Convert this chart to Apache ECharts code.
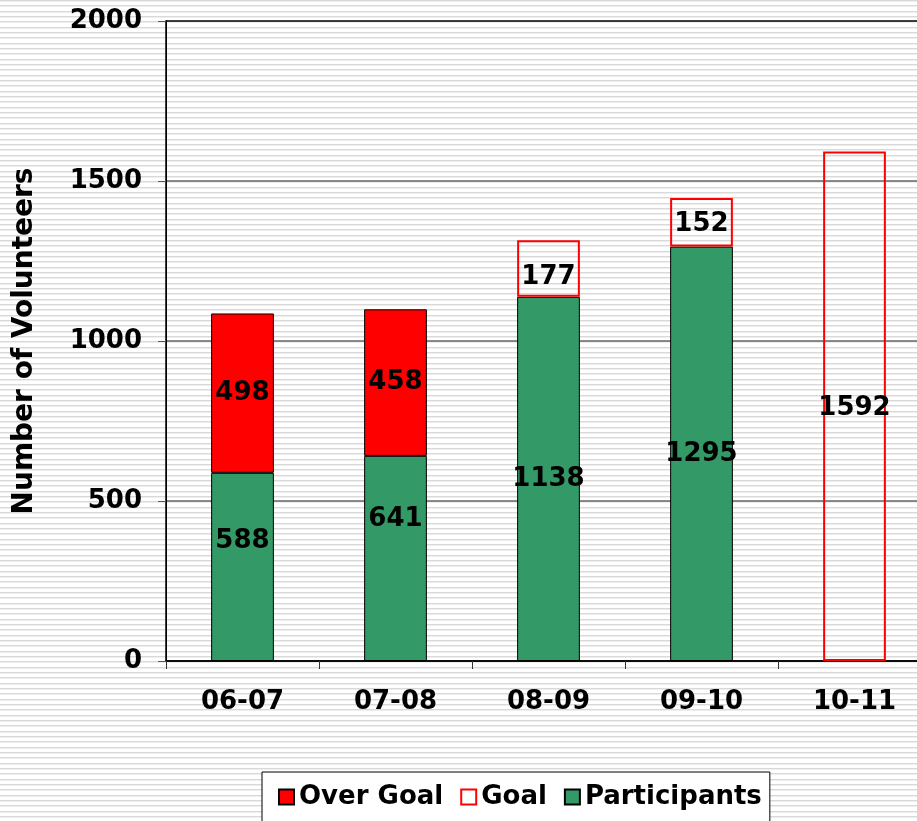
<!DOCTYPE html>
<html>
<head>
<meta charset="utf-8">
<script src="https://cdn.jsdelivr.net/npm/echarts@6/dist/echarts.min.js"></script>
<style>
  html, body { margin: 0; padding: 0; background: #fff; }
  #chart { width: 917px; height: 821px; }
</style>
</head>
<body>
<div id="chart"></div>
<script>
const seasons = ["06-07", "07-08", "08-09", "09-10", "10-11"];
const participants = [588, 641, 1138, 1295, null];
const overGoal = [498, 458, null, null, null];
const goalLeft = [null, null, 177, 152, 1592];
const yTicks = [0, 500, 1000, 1500, 2000];

// striped backdrop like the source slide
const stripe = document.createElement("canvas");
stripe.width = 8;
stripe.height = 16;
const sctx = stripe.getContext("2d");
sctx.fillStyle = "#ffffff";
sctx.fillRect(0, 0, 8, 16);
[0, 5, 11].forEach((y) => {
  sctx.fillStyle = "#d9d9d9";
  sctx.fillRect(0, y, 8, 1);
  sctx.fillStyle = "#eeeeee";
  sctx.fillRect(0, y + 1, 8, 1);
});

// the first two green labels sit a bit above centre in the source
const participantShift = [-26, -39, 0, 0, 0];

const labelFont = {
  fontFamily: "DejaVu Sans",
  fontWeight: "bold",
  fontSize: 26,
  color: "#000",
};

const chart = echarts.init(document.getElementById("chart"));
chart.setOption({
  animation: false,
  backgroundColor: { image: stripe, repeat: "repeat" },
  grid: {
    show: true,
    left: 166,
    top: 21,
    width: 765,
    height: 640,
    outerBoundsMode: "none",
    containLabel: false,
    borderColor: "#000",
    borderWidth: 1.5,
    backgroundColor: "transparent",
  },
  legend: {
    data: ["Over Goal", "Goal", "Participants"],
    left: 262,
    top: 772,
    padding: [12, 8, 20, 16],
    backgroundColor: "#fff",
    borderColor: "#000",
    borderWidth: 1,
    itemWidth: 15,
    itemHeight: 15,
    itemGap: 17,
    icon: "rect",
    textStyle: Object.assign({}, labelFont, { padding: [0, 0, 0, 0] }),
  },
  xAxis: {
    type: "category",
    data: seasons,
    axisLine: { lineStyle: { color: "#000", width: 1.5 } },
    axisTick: { show: true, length: 8, lineStyle: { color: "#333" } },
    axisLabel: Object.assign({ margin: 28 }, labelFont),
    splitLine: { show: false },
  },
  yAxis: {
    type: "value",
    min: yTicks[0],
    max: yTicks[yTicks.length - 1],
    interval: yTicks[1] - yTicks[0],
    name: "Number of Volunteers",
    nameLocation: "middle",
    nameGap: 127,
    nameTextStyle: {
      fontFamily: "DejaVu Sans",
      fontWeight: "bold",
      fontSize: 28,
      color: "#000",
    },
    axisLine: { show: true, lineStyle: { color: "#000" } },
    axisTick: { show: true, length: 8, lineStyle: { color: "#555" } },
    axisLabel: Object.assign({ margin: 24, formatter: (v) => String(v) }, labelFont),
    splitLine: {
      show: true,
      showMinLine: false,
      showMaxLine: false,
      lineStyle: { color: "#666", width: 1.5 },
    },
  },
  series: [
    {
      name: "Participants",
      type: "bar",
      stack: "v",
      barWidth: "41%",
      data: participants.map((v, i) => ({
        value: v,
        label: { offset: [0, participantShift[i]] },
      })),
      itemStyle: { color: "#339966", borderColor: "#000", borderWidth: 1 },
      label: Object.assign({ show: true, position: "inside" }, labelFont),
    },
    {
      name: "Over Goal",
      type: "bar",
      stack: "v",
      data: overGoal,
      itemStyle: { color: "#ff0000", borderColor: "#000", borderWidth: 1 },
      label: Object.assign({ show: true, position: "inside" }, labelFont),
    },
    {
      name: "Goal",
      type: "bar",
      stack: "v",
      data: goalLeft.map((v, i) => ({
        value: v,
        label: { offset: [0, i === 2 ? 9 : 2] },
      })),
      itemStyle: { color: "rgba(255,255,255,0)", borderColor: "#ff0000", borderWidth: 2 },
      label: Object.assign({ show: true, position: "inside" }, labelFont),
    },
  ],
});
</script>
</body>
</html>
